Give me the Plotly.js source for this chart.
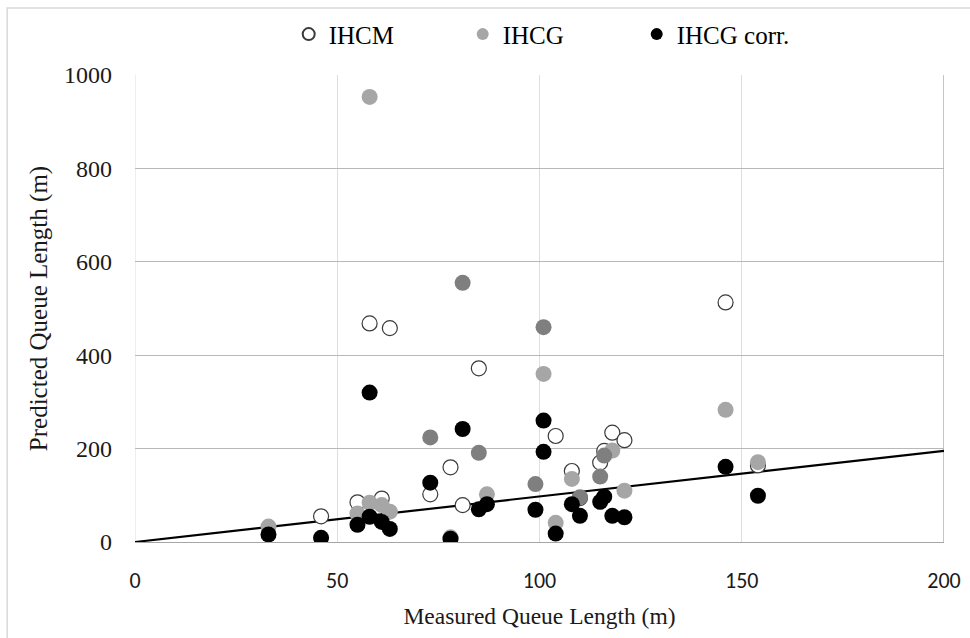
<!DOCTYPE html>
<html>
<head>
<meta charset="utf-8">
<script src="https://cdn.plot.ly/plotly-3.0.1.min.js"></script>
<style>html,body{margin:0;padding:0;background:#fff;}#chart{width:970px;height:638px;}</style>
</head>
<body>
<div id="chart"></div>
<script>
// IHCM (measured vs predicted, m)
const ihcmX = [46, 55, 58, 61, 63, 73, 78, 81, 85, 104, 108, 110, 115, 116, 118, 121, 146, 154];
const ihcmY = [55, 85, 468, 93, 458, 102, 160, 79, 372, 227, 152, 94, 170, 195, 234, 218, 513, 164];

// IHCG
const ihcgX = [33, 55, 58, 61, 63, 58, 101, 87, 104, 108, 118, 121, 146, 154, 78, 73, 81, 101, 85, 99, 110, 116, 115];
const ihcgY = [33, 61, 84, 79, 65, 953, 360, 102, 41, 135, 196, 110, 283, 171, 10, 224, 555, 460, 191, 124, 96, 185, 140];
// shade of each IHCG marker: 0 = light grey, 1 = dark grey
const ihcgShade = [0, 0, 0, 0, 0, 0, 0, 0, 0, 0, 0, 0, 0, 0, 0, 1, 1, 1, 1, 1, 1, 1, 1];

// IHCG corr.
const corrX = [33, 46, 55, 58, 58, 61, 63, 73, 78, 81, 85, 87, 99, 101, 101, 104, 108, 110, 115, 116, 118, 121, 146, 154];
const corrY = [16, 9, 37, 54, 320, 43, 28, 127, 7, 242, 70, 81, 69, 260, 193, 18, 81, 56, 86, 97, 56, 53, 161, 99];

// reference line
const refX = [0, 200];
const refY = [0, 195];

const shadeColors = ['#a6a6a6', '#7f7f7f'];
const SERIF = '"Times New Roman", "Liberation Serif", Tinos, serif';
const SANS = 'Calibri, Carlito, "Liberation Sans", Arial, sans-serif';

const traces = [
  {x: refX, y: refY, mode: 'lines', type: 'scatter', showlegend: false,
   line: {color: '#000', width: 2.2}, hoverinfo: 'skip'},
  {x: ihcmX, y: ihcmY, mode: 'markers', type: 'scatter', name: 'IHCM',
   marker: {size: 15, color: '#ffffff', line: {color: '#3a3a3a', width: 1.2}}},
  {x: ihcgX, y: ihcgY, mode: 'markers', type: 'scatter', name: 'IHCG',
   marker: {size: 16, color: ihcgShade.map(s => shadeColors[s]), line: {width: 0}}},
  {x: corrX, y: corrY, mode: 'markers', type: 'scatter', name: 'IHCG corr.',
   marker: {size: 16, color: '#000000', line: {width: 0}}}
];

const layout = {
  width: 970, height: 638,
  font: {family: SERIF, color: '#1a1a1a'},
  margin: {l: 135, r: 26, t: 75, b: 96, autoexpand: false},
  paper_bgcolor: '#ffffff', plot_bgcolor: '#ffffff',
  showlegend: true,
  legend: {orientation: 'h', x: 0.19, xanchor: 'left', y: 1.087, yanchor: 'middle',
           font: {family: SERIF, size: 25, color: '#000'},
           entrywidth: 129, entrywidthmode: 'pixels', itemsizing: 'constant',
           bgcolor: 'rgba(0,0,0,0)', traceorder: 'normal'},
  xaxis: {range: [0, 200], tickvals: [0, 50, 100, 150, 200], ticktext: ['0', '50', '100', '150', '200'],
          showgrid: true, gridcolor: '#dedede', gridwidth: 1, zeroline: false,
          showline: true, linecolor: '#a6a6a6', linewidth: 1.3, ticks: '',
          ticklabelstandoff: 18,
          tickfont: {family: SANS, size: 22, color: '#1a1a1a'},
          title: {text: 'Measured Queue Length (m)', standoff: 14,
                  font: {family: SERIF, size: 23.5, color: '#1a1a1a'}},
          automargin: false, fixedrange: true},
  yaxis: {range: [0, 1000], tickvals: [0, 200, 400, 600, 800, 1000],
          showgrid: true, gridcolor: '#b8b8b8', gridwidth: 1.2, zeroline: false,
          showline: false, ticks: '', ticklabelstandoff: 22,
          tickfont: {family: SERIF, size: 24, color: '#1a1a1a'},
          title: {text: 'Predicted Queue Length (m)', standoff: 9,
                  font: {family: SERIF, size: 25, color: '#1a1a1a'}},
          automargin: false, fixedrange: true},
  shapes: [
    {type: 'line', xref: 'x', yref: 'y', x0: 200, x1: 200, y0: 0, y1: 1000,
     line: {color: '#a6a6a6', width: 1.3}, layer: 'below'},
    {type: 'line', xref: 'x', yref: 'y', x0: 0, x1: 0, y0: 0, y1: 1000,
     line: {color: '#dedede', width: 1}, layer: 'below'},
    {type: 'rect', xref: 'paper', yref: 'paper', x0: -0.158, x1: 1.2, y0: -0.3, y1: 1.1435,
     line: {color: '#d9d9d9', width: 1.5}, fillcolor: 'rgba(0,0,0,0)', layer: 'below'}
  ]
};

Plotly.newPlot('chart', traces, layout, {displayModeBar: false, staticPlot: true});
</script>
</body>
</html>
